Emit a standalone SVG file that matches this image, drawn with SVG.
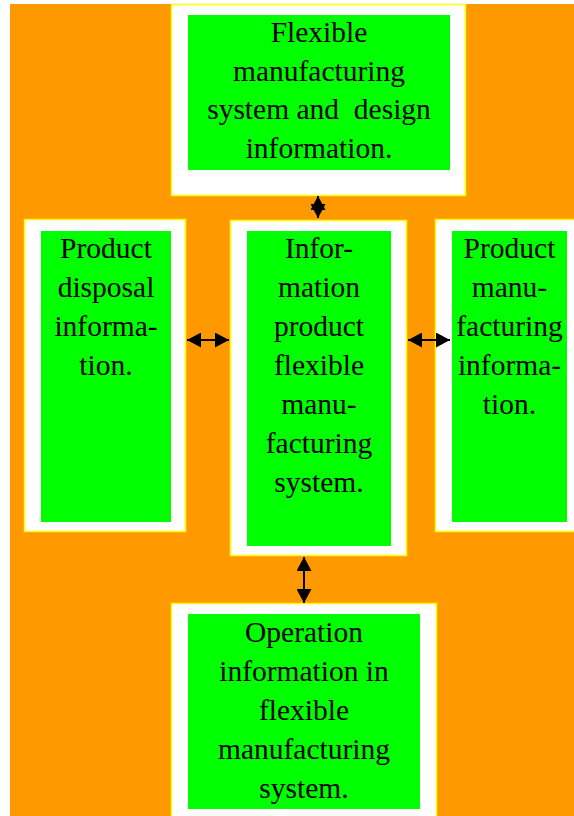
<svg xmlns="http://www.w3.org/2000/svg" width="574" height="816" viewBox="0 0 574 816">
  <defs>
    <style>
      .frame { fill: #ffffff; stroke: #ffff00; stroke-width: 1.5; }
      .panel { fill: #00ff00; }
      .label { font-family: "Liberation Serif", "Times New Roman", serif; font-size: 29.5px; fill: #000000; text-anchor: middle; }
      .link { stroke: #000000; stroke-width: 2; fill: none; marker-start: url(#head); marker-end: url(#head); }
    </style>
    <marker id="head" markerUnits="userSpaceOnUse" markerWidth="14" markerHeight="15" refX="14" refY="7.5" orient="auto-start-reverse">
      <path d="M0,0 L14,7.5 L0,15 z" fill="#000000"/>
    </marker>
  </defs>

  <!-- page background -->
  <rect x="0" y="0" width="574" height="816" fill="#ffffff"/>
  <rect x="10" y="4" width="564" height="812" fill="#ff9900"/>

  <!-- top: design information -->
  <g id="design-info">
    <rect class="frame" x="171.5" y="4.5" width="294" height="191"/>
    <rect class="panel" x="188" y="15" width="262" height="155"/>
    <text class="label" x="319" y="42">Flexible</text>
    <text class="label" x="319" y="81">manufacturing</text>
    <text class="label" x="319" y="119">system and&#160; design</text>
    <text class="label" x="319" y="158">information.</text>
  </g>

  <!-- left: disposal information -->
  <g id="disposal-info">
    <rect class="frame" x="24.5" y="219.5" width="161" height="312"/>
    <rect class="panel" x="41" y="231" width="130" height="291"/>
    <text class="label" x="106" y="258">Product</text>
    <text class="label" x="106" y="297">disposal</text>
    <text class="label" x="106" y="336">informa-</text>
    <text class="label" x="106" y="375">tion.</text>
  </g>

  <!-- centre: information product FMS -->
  <g id="core-info">
    <rect class="frame" x="230.5" y="220.5" width="176" height="335"/>
    <rect class="panel" x="247" y="231" width="144" height="315"/>
    <text class="label" x="319" y="258">Infor-</text>
    <text class="label" x="319" y="297">mation</text>
    <text class="label" x="319" y="336">product</text>
    <text class="label" x="319" y="375">flexible</text>
    <text class="label" x="319" y="414">manu-</text>
    <text class="label" x="319" y="453">facturing</text>
    <text class="label" x="319" y="492">system.</text>
  </g>

  <!-- right: manufacturing information -->
  <g id="manufacturing-info">
    <rect class="frame" x="435.5" y="219.5" width="150" height="312"/>
    <rect class="panel" x="452" y="231" width="115" height="291"/>
    <text class="label" x="509.5" y="258">Product</text>
    <text class="label" x="509.5" y="297">manu-</text>
    <text class="label" x="509.5" y="336">facturing</text>
    <text class="label" x="509.5" y="375">informa-</text>
    <text class="label" x="509.5" y="414">tion.</text>
  </g>

  <!-- bottom: operation information -->
  <g id="operation-info">
    <rect class="frame" x="171.5" y="603.5" width="265" height="230"/>
    <rect class="panel" x="188" y="614" width="232" height="195"/>
    <text class="label" x="304" y="642">Operation</text>
    <text class="label" x="304" y="681">information in</text>
    <text class="label" x="304" y="720">flexible</text>
    <text class="label" x="304" y="759">manufacturing</text>
    <text class="label" x="304" y="798">system.</text>
  </g>

  <!-- two-way links -->
  <g id="links">
    <line class="link" x1="318" y1="196" x2="318" y2="218"/>
    <line class="link" x1="187" y1="340" x2="229" y2="340"/>
    <line class="link" x1="408" y1="340" x2="450" y2="340"/>
    <line class="link" x1="304" y1="557" x2="304" y2="603"/>
  </g>
</svg>
